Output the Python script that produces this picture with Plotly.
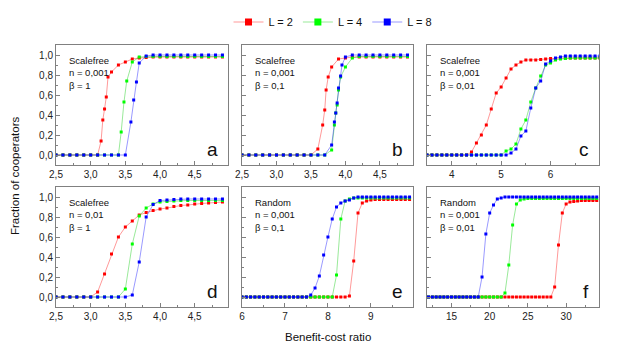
import plotly.graph_objects as go

# ---- data ----
x_ad = [2.5, 2.6, 2.7, 2.8, 2.9, 3.0, 3.1, 3.2, 3.3, 3.4, 3.5, 3.6, 3.7, 3.8, 3.9,
        4.0, 4.1, 4.2, 4.3, 4.4, 4.5, 4.6, 4.7, 4.8, 4.9]

# panel a: Scalefree, n = 0,001, beta = 1
a_red_x = [2.5, 2.6, 2.7, 2.8, 2.9, 3.0, 3.1, 3.15, 3.175, 3.2, 3.225, 3.25, 3.3, 3.4, 3.5,
           3.6, 3.7, 3.8, 3.9, 4.0, 4.1, 4.2, 4.3, 4.4, 4.5, 4.6, 4.7, 4.8, 4.9]
a_red_y = [0, 0, 0, 0, 0, 0, 0, 0.14, 0.35, 0.46, 0.58, 0.78, 0.83, 0.90, 0.93,
           0.96, 0.97, 0.975, 0.98, 0.98, 0.98, 0.98, 0.98, 0.98, 0.98, 0.98, 0.98, 0.98, 0.98]
a_green_x = [2.5, 2.6, 2.7, 2.8, 2.9, 3.0, 3.1, 3.2, 3.3, 3.4, 3.44, 3.48, 3.52, 3.6,
             3.7, 3.8, 3.9, 4.0, 4.1, 4.2, 4.3, 4.4, 4.5, 4.6, 4.7, 4.8, 4.9]
a_green_y = [0, 0, 0, 0, 0, 0, 0, 0, 0, 0, 0.23, 0.53, 0.74, 0.93,
             0.98, 0.985, 0.985, 0.985, 0.985, 0.985, 0.985, 0.985, 0.985, 0.985, 0.985, 0.985, 0.985]
a_blue_x = [2.5, 2.6, 2.7, 2.8, 2.9, 3.0, 3.1, 3.2, 3.3, 3.4, 3.5, 3.58, 3.62, 3.66, 3.7,
            3.8, 3.9, 4.0, 4.1, 4.2, 4.3, 4.4, 4.5, 4.6, 4.7, 4.8, 4.9]
a_blue_y = [0, 0, 0, 0, 0, 0, 0, 0, 0, 0, 0, 0.33, 0.55, 0.73, 0.92,
            0.99, 1.0, 1.0, 1.0, 1.0, 1.0, 1.0, 1.0, 1.0, 1.0, 1.0, 1.0]

# panel b: Scalefree, n = 0,001, beta = 0,1
b_red_x = [2.5, 2.6, 2.7, 2.8, 2.9, 3.0, 3.1, 3.2, 3.3, 3.4, 3.5, 3.6, 3.67, 3.7, 3.72, 3.75,
           3.8, 3.9, 4.0, 4.1, 4.2, 4.3, 4.4, 4.5, 4.6, 4.7, 4.8, 4.9]
b_red_y = [0, 0, 0, 0, 0, 0, 0, 0, 0, 0, 0, 0.06, 0.30, 0.45, 0.65, 0.78,
           0.88, 0.96, 0.97, 0.98, 0.98, 0.98, 0.98, 0.98, 0.98, 0.98, 0.98, 0.98]
b_green_x = [2.5, 2.6, 2.7, 2.8, 2.9, 3.0, 3.1, 3.2, 3.3, 3.4, 3.5, 3.6, 3.7, 3.8, 3.84, 3.86,
             3.88, 3.9, 3.93, 4.0, 4.1, 4.2, 4.3, 4.4, 4.5, 4.6, 4.7, 4.8, 4.9]
b_green_y = [0, 0, 0, 0, 0, 0, 0, 0, 0, 0, 0, 0, 0, 0.05, 0.30, 0.42,
             0.50, 0.65, 0.78, 0.88, 0.97, 0.985, 0.985, 0.985, 0.985, 0.985, 0.985, 0.985, 0.985]
b_blue_x = [2.5, 2.6, 2.7, 2.8, 2.9, 3.0, 3.1, 3.2, 3.3, 3.4, 3.5, 3.6, 3.7, 3.8, 3.84, 3.86,
            3.88, 3.9, 3.93, 3.95, 4.0, 4.1, 4.2, 4.3, 4.4, 4.5, 4.6, 4.7, 4.8, 4.9]
b_blue_y = [0, 0, 0, 0, 0, 0, 0, 0, 0, 0, 0, 0, 0, 0.10, 0.33, 0.42,
            0.52, 0.67, 0.79, 0.90, 0.98, 1.0, 1.0, 1.0, 1.0, 1.0, 1.0, 1.0, 1.0, 1.0]

# panel c: Scalefree, n = 0,001, beta = 0,01
x_c = [3.5, 3.6, 3.7, 3.8, 3.9, 4.0, 4.1, 4.2, 4.3, 4.4, 4.5, 4.6, 4.7, 4.8, 4.9, 5.0, 5.1, 5.2,
       5.3, 5.4, 5.5, 5.6, 5.7, 5.8, 5.9, 6.0, 6.1, 6.2, 6.3, 6.4, 6.5, 6.6, 6.7, 6.8, 6.9, 7.0]
c_red_y = [0, 0, 0, 0, 0, 0, 0, 0, 0, 0.03, 0.12, 0.20, 0.30, 0.46, 0.62, 0.68, 0.77, 0.86,
           0.90, 0.93, 0.95, 0.95, 0.95, 0.955, 0.96, 0.965, 0.965, 0.97, 0.97, 0.97, 0.97, 0.97,
           0.97, 0.97, 0.97, 0.97]
c_green_y = [0, 0, 0, 0, 0, 0, 0, 0, 0, 0, 0, 0, 0, 0, 0, 0, 0.04, 0.06,
             0.11, 0.26, 0.35, 0.53, 0.67, 0.79, 0.90, 0.92, 0.95, 0.96, 0.965, 0.97, 0.97, 0.97,
             0.97, 0.97, 0.97, 0.97]
c_blue_y = [0, 0, 0, 0, 0, 0, 0, 0, 0, 0, 0, 0, 0, 0, 0, 0, 0, 0.02,
            0.06, 0.19, 0.24, 0.47, 0.67, 0.74, 0.91, 0.94, 0.97, 0.98, 0.99, 0.99, 0.99, 0.99,
            0.99, 0.99, 0.99, 0.99]

# panel d: Scalefree, n = 0,01, beta = 1
d_red_y = [0, 0, 0, 0, 0, 0, 0.05, 0.23, 0.43, 0.60, 0.70, 0.76, 0.82, 0.845, 0.865,
           0.88, 0.89, 0.905, 0.915, 0.92, 0.93, 0.935, 0.94, 0.945, 0.95]
d_green_y = [0, 0, 0, 0, 0, 0, 0, 0, 0, 0, 0.08, 0.53, 0.81, 0.89, 0.93,
             0.95, 0.955, 0.96, 0.965, 0.965, 0.965, 0.965, 0.965, 0.965, 0.965]
d_blue_y = [0, 0, 0, 0, 0, 0, 0, 0, 0, 0, 0, 0.02, 0.35, 0.80, 0.925,
            0.965, 0.97, 0.975, 0.98, 0.98, 0.98, 0.98, 0.98, 0.98, 0.98]

# panel e: Random, n = 0,001, beta = 0,1
x_e = [6.0, 6.1, 6.2, 6.3, 6.4, 6.5, 6.6, 6.7, 6.8, 6.9, 7.0, 7.1, 7.2, 7.3, 7.4, 7.5, 7.6, 7.7,
       7.8, 7.9, 8.0, 8.1, 8.2, 8.3, 8.4, 8.5, 8.6, 8.7, 8.8, 8.9, 9.0, 9.1, 9.2, 9.3, 9.4, 9.5,
       9.6, 9.7, 9.8, 9.9]
e_red_y = [0, 0, 0, 0, 0, 0, 0, 0, 0, 0, 0, 0, 0, 0, 0, 0, 0, 0,
           0, 0, 0, 0, 0, 0, 0, 0.01, 0.36, 0.84, 0.94, 0.96, 0.97, 0.975, 0.975, 0.975, 0.975, 0.975,
           0.975, 0.975, 0.975, 0.975]
e_green_y = [0, 0, 0, 0, 0, 0, 0, 0, 0, 0, 0, 0, 0, 0, 0, 0, 0, 0,
             0, 0, 0, 0, 0.22, 0.78, 0.96, 0.98, 0.99, 0.99, 0.99, 0.99, 0.99, 0.99, 0.99, 0.99, 0.99, 0.99,
             0.99, 0.99, 0.99, 0.99]
e_blue_y = [0, 0, 0, 0, 0, 0, 0, 0, 0, 0, 0, 0, 0, 0, 0, 0, 0.02, 0.09,
            0.21, 0.42, 0.60, 0.78, 0.90, 0.94, 0.96, 0.97, 0.99, 1.0, 1.0, 1.0, 1.0, 1.0, 1.0, 1.0, 1.0, 1.0,
            1.0, 1.0, 1.0, 1.0]

# panel f: Random, n = 0,001, beta = 0,01
x_f = [12.0, 12.5, 13.0, 13.5, 14.0, 14.5, 15.0, 15.5, 16.0, 16.5, 17.0, 17.5, 18.0, 18.5, 19.0,
       19.5, 20.0, 20.5, 21.0, 21.5, 22.0, 22.5, 23.0, 23.5, 24.0, 24.5, 25.0, 25.5, 26.0, 26.5,
       27.0, 27.5, 28.0, 28.5, 29.0, 29.5, 30.0, 30.5, 31.0, 31.5, 32.0, 32.5, 33.0, 33.5, 34.0]
f_red_y = [0, 0, 0, 0, 0, 0, 0, 0, 0, 0, 0, 0, 0, 0, 0,
           0, 0, 0, 0, 0, 0, 0, 0, 0, 0, 0, 0, 0, 0, 0,
           0, 0, 0, 0.10, 0.52, 0.84, 0.93, 0.95, 0.955, 0.96, 0.965, 0.965, 0.965, 0.965, 0.965]
f_green_y = [0, 0, 0, 0, 0, 0, 0, 0, 0, 0, 0, 0, 0, 0, 0,
             0, 0, 0, 0, 0, 0.04, 0.32, 0.72, 0.93, 0.97, 0.98, 0.985, 0.985, 0.985, 0.985,
             0.985, 0.985, 0.985, 0.985, 0.985, 0.985, 0.985, 0.985, 0.985, 0.985, 0.985, 0.985, 0.985, 0.985, 0.985]
f_blue_y = [0, 0, 0, 0, 0, 0, 0, 0, 0, 0, 0, 0, 0, 0, 0.20,
            0.63, 0.84, 0.92, 0.98, 0.99, 1.0, 1.0, 1.0, 1.0, 1.0, 1.0, 1.0, 1.0, 1.0, 1.0,
            1.0, 1.0, 1.0, 1.0, 1.0, 1.0, 1.0, 1.0, 1.0, 1.0, 1.0, 1.0, 1.0, 1.0, 1.0]

series_names = ['L = 2', 'L = 4', 'L = 8']
colors = ['#ff0000', '#00ff00', '#0000ff']
line_colors = ['rgba(255,0,0,0.4)', 'rgba(0,200,0,0.4)', 'rgba(0,0,255,0.4)']

panels = [
    dict(letter='a', note='Scalefree<br>n = 0,001<br>β = 1', xr=[2.5, 4.98], dt=0.5, fmt='.1f',
         data=[(a_red_x, a_red_y), (a_green_x, a_green_y), (a_blue_x, a_blue_y)]),
    dict(letter='b', note='Scalefree<br>n = 0,001<br>β = 0,1', xr=[2.5, 4.98], dt=0.5, fmt='.1f',
         data=[(b_red_x, b_red_y), (b_green_x, b_green_y), (b_blue_x, b_blue_y)]),
    dict(letter='c', note='Scalefree<br>n = 0,001<br>β = 0,01', xr=[3.5, 6.98], dt=1, fmt='d',
         data=[(x_c, c_red_y), (x_c, c_green_y), (x_c, c_blue_y)]),
    dict(letter='d', note='Scalefree<br>n = 0,01<br>β = 1', xr=[2.5, 4.98], dt=0.5, fmt='.1f',
         data=[(x_ad, d_red_y), (x_ad, d_green_y), (x_ad, d_blue_y)]),
    dict(letter='e', note='Random<br>n = 0,001<br>β = 0,1', xr=[6.0, 9.98], dt=1, fmt='d',
         data=[(x_e, e_red_y), (x_e, e_green_y), (x_e, e_blue_y)]),
    dict(letter='f', note='Random<br>n = 0,001<br>β = 0,01', xr=[11.8, 34.3], dt=5, fmt='d',
         data=[(x_f, f_red_y), (x_f, f_green_y), (x_f, f_blue_y)]),
]

# the page body adds an 8px margin, so the figure is drawn 8px smaller and everything
# is placed in screen pixels minus that offset
OFF = 8
W, H = 630 - OFF, 356 - OFF
cols = [(56, 228), (242, 413), (427, 599)]
rows = [(45, 165), (187, 307)]
FONT = 'Liberation Sans, Arial, sans-serif'
AX = '#808080'


def px(x):
    return (x - OFF) / W


def py(y):
    return 1 - (y - OFF) / H


fig = go.Figure()
layout = {}
annotations = []

for i, p in enumerate(panels):
    r, c = divmod(i, 3)
    n = '' if i == 0 else str(i + 1)
    xa, ya = 'x' + n, 'y' + n
    for k, (xs, ys) in enumerate(p['data']):
        fig.add_trace(go.Scatter(
            x=xs, y=ys, xaxis=xa, yaxis=ya, mode='lines+markers',
            line=dict(color=line_colors[k], width=1),
            marker=dict(symbol='square', size=3, color=colors[k]),
            showlegend=False, hoverinfo='skip'
        ))
    left, right = cols[c]
    top, bot = rows[r]
    common = dict(showline=True, linecolor=AX, linewidth=1, mirror=True, showgrid=False,
                  zeroline=False, ticks='inside', ticklen=4, tickcolor=AX, automargin=False,
                  tickfont=dict(size=10, color='#222', family=FONT))
    layout['xaxis' + n] = dict(
        domain=[px(left), px(right)], range=p['xr'], anchor=ya,
        tick0=0, dtick=p['dt'], tickformat=p['fmt'],
        minor=dict(ticks='inside', ticklen=2, tickcolor=AX, dtick=p['dt'] / 2),
        **common)
    layout['yaxis' + n] = dict(
        domain=[py(bot), py(top)], range=[-0.1, 1.1], anchor=xa,
        dtick=0.2, tickformat='.1f', showticklabels=(c == 0),
        minor=dict(ticks='inside', ticklen=2, tickcolor=AX, dtick=0.1),
        **common)
    annotations.append(dict(
        text=p['note'], xref=xa + ' domain', yref=ya + ' domain', x=0, y=1,
        xanchor='left', yanchor='top', xshift=11, yshift=-8, align='left',
        showarrow=False, font=dict(size=9.5, color='#111', family=FONT)))
    annotations.append(dict(
        text=p['letter'], xref=xa + ' domain', yref=ya + ' domain', x=1, y=0,
        xanchor='right', yanchor='bottom', xshift=-8, yshift=3,
        showarrow=False, font=dict(size=19, color='#111', family=FONT)))

# legend entries
for k in range(3):
    fig.add_trace(go.Scatter(
        x=[None], y=[None], mode='lines+markers', name=series_names[k],
        line=dict(color=line_colors[k], width=1),
        marker=dict(symbol='square', size=7, color=colors[k])
    ))

annotations.append(dict(text='Benefit-cost ratio', xref='paper', yref='paper',
                        x=px(328), y=py(337), xanchor='center', yanchor='middle',
                        showarrow=False, font=dict(size=11.5, color='#111', family=FONT)))
annotations.append(dict(text='Fraction of cooperators', xref='paper', yref='paper',
                        x=px(15), y=py(176), xanchor='center', yanchor='middle',
                        textangle=-90, showarrow=False,
                        font=dict(size=11.5, color='#111', family=FONT)))

fig.update_layout(
    width=W, height=H,
    margin=dict(l=0, r=0, t=0, b=0, autoexpand=False),
    plot_bgcolor='white', paper_bgcolor='white',
    separators=',.',
    font=dict(family=FONT, color='#111'),
    showlegend=True,
    legend=dict(orientation='h', x=px(333), xanchor='center', y=py(22), yanchor='middle',
                font=dict(size=11, family=FONT, color='#111'), itemwidth=30),
    annotations=annotations,
    **layout
)

fig.write_html("out.html")
